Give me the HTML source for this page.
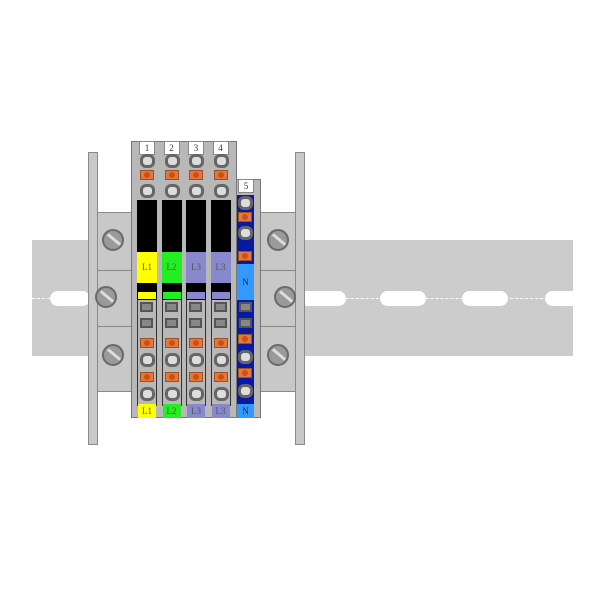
<!DOCTYPE html>
<html><head><style>
body{margin:0;background:#fff;width:600px;height:600px;position:relative;overflow:hidden;font-family:"Liberation Serif",serif}
div{position:absolute;box-sizing:border-box}
.g{background:#c8c8c8;border:1px solid #8a8a8a}
.slot{background:#fff;border-radius:9px;height:15px;top:291px}
.scr{width:22px;height:22px;border-radius:50%;background:#9a9a9a;border:2px solid #6a6a6a}
.scr:after{content:"";position:absolute;left:2px;top:7px;width:16px;height:3px;background:#ddd;transform:rotate(40deg)}
.t{background:#b8b8b8;border:1px solid #777}
.lab{background:#fff;border:1px solid #888;font-size:9px;text-align:center;line-height:13px;color:#333}
.or{background:#e07840;border:1px solid #a05020;width:14px;height:10px}
.or:after{content:"";position:absolute;left:3px;top:1px;width:6px;height:6px;border-radius:50%;background:#d05010}
.cir{width:15px;height:14px;border-radius:6px;border:3px solid #666;background:#ddd}
.sq{width:13px;height:10px;background:#888;border:2px solid #555}
.cl{font-size:9px;text-align:center;color:#555}
</style></head><body>
<div style="left:32px;top:240px;width:541px;height:116px;background:#cccccc"></div>
<div style="left:32px;top:298px;width:541px;border-top:1px dashed #fff"></div>
<div class="slot" style="left:50px;width:40px"></div>
<div class="slot" style="left:300px;width:46px"></div>
<div class="slot" style="left:380px;width:46px"></div>
<div class="slot" style="left:462px;width:46px"></div>
<div class="slot" style="left:545px;width:40px;border-radius:9px 0 0 9px"></div>
<div class="g" style="left:88px;top:152px;width:10px;height:293px"></div>
<div class="g" style="left:295px;top:152px;width:10px;height:293px"></div>
<div class="g" style="left:97px;top:212px;width:35px;height:180px"></div>
<div class="g" style="left:259px;top:212px;width:37px;height:180px"></div>
<div style="left:97px;top:270px;width:35px;border-top:1px solid #888"></div>
<div style="left:97px;top:326px;width:35px;border-top:1px solid #888"></div>
<div style="left:259px;top:270px;width:37px;border-top:1px solid #888"></div>
<div style="left:259px;top:326px;width:37px;border-top:1px solid #888"></div>
<div class="scr" style="left:102px;top:229px"></div>
<div class="scr" style="left:95px;top:286px"></div>
<div class="scr" style="left:102px;top:344px"></div>
<div class="scr" style="left:267px;top:229px"></div>
<div class="scr" style="left:274px;top:286px"></div>
<div class="scr" style="left:267px;top:344px"></div>
<div class="t" style="left:131px;top:141px;width:106px;height:277px"></div>
<div class="t" style="left:236px;top:179px;width:25px;height:239px"></div>
<div id="T"></div>
<script>
var cols=[["#ffff00","L1"],["#22ee22","L2"],["#8888cc","L3"],["#8888cc","L3"]];
var h="";
for(var i=0;i<4;i++){var x=137+i*24.5;
h+='<div class="lab" style="left:'+(x+2)+'px;top:141px;width:16px;height:14px">'+(i+1)+'</div>';
h+='<div class="cir" style="left:'+(x+3)+'px;top:154px"></div>';
h+='<div class="or" style="left:'+(x+3)+'px;top:170px"></div>';
h+='<div class="cir" style="left:'+(x+3)+'px;top:184px"></div>';
h+='<div style="left:'+x+'px;top:200px;width:20px;height:100px;background:#000"></div>';
h+='<div class="cl" style="left:'+x+'px;top:252px;width:20px;height:31px;line-height:31px;background:'+cols[i][0]+'">'+cols[i][1]+'</div>';
h+='<div style="left:'+(x+1)+'px;top:292px;width:18px;height:7px;background:'+cols[i][0]+'"></div>';
h+='<div style="left:'+x+'px;top:299px;width:20px;height:107px;border-left:1px solid #333;border-right:1px solid #333"></div>';
h+='<div class="sq" style="left:'+(x+3)+'px;top:302px"></div>';
h+='<div class="sq" style="left:'+(x+3)+'px;top:318px"></div>';
h+='<div class="or" style="left:'+(x+3)+'px;top:338px"></div>';
h+='<div class="cir" style="left:'+(x+3)+'px;top:353px"></div>';
h+='<div class="or" style="left:'+(x+3)+'px;top:372px"></div>';
h+='<div class="cir" style="left:'+(x+3)+'px;top:387px"></div>';
h+='<div class="cl" style="left:'+(x+1)+'px;top:404px;width:18px;height:14px;line-height:14px;background:'+cols[i][0]+'">'+cols[i][1]+'</div>';
}
var x=237;
h+='<div class="lab" style="left:'+(x+1)+'px;top:179px;width:16px;height:14px">5</div>';
h+='<div style="left:'+x+'px;top:195px;width:17px;height:222px;background:#0a1aa0"></div>';
h+='<div class="cir" style="left:'+(x+1)+'px;top:196px"></div>';
h+='<div class="or" style="left:'+(x+1)+'px;top:212px"></div>';
h+='<div class="cir" style="left:'+(x+1)+'px;top:226px"></div>';
h+='<div class="or" style="left:'+(x+1)+'px;top:251px"></div>';
h+='<div class="cl" style="left:'+x+'px;top:264px;width:17px;height:36px;line-height:36px;background:#3399ff;color:#224">N</div>';
h+='<div class="sq" style="left:'+(x+2)+'px;top:302px"></div>';
h+='<div class="sq" style="left:'+(x+2)+'px;top:318px"></div>';
h+='<div class="or" style="left:'+(x+1)+'px;top:334px"></div>';
h+='<div class="cir" style="left:'+(x+1)+'px;top:350px"></div>';
h+='<div class="or" style="left:'+(x+1)+'px;top:368px"></div>';
h+='<div class="cir" style="left:'+(x+1)+'px;top:384px"></div>';
h+='<div class="cl" style="left:'+x+'px;top:404px;width:17px;height:14px;line-height:14px;background:#3399ff;color:#224">N</div>';
document.getElementById("T").outerHTML=h;
</script>
</body></html>
